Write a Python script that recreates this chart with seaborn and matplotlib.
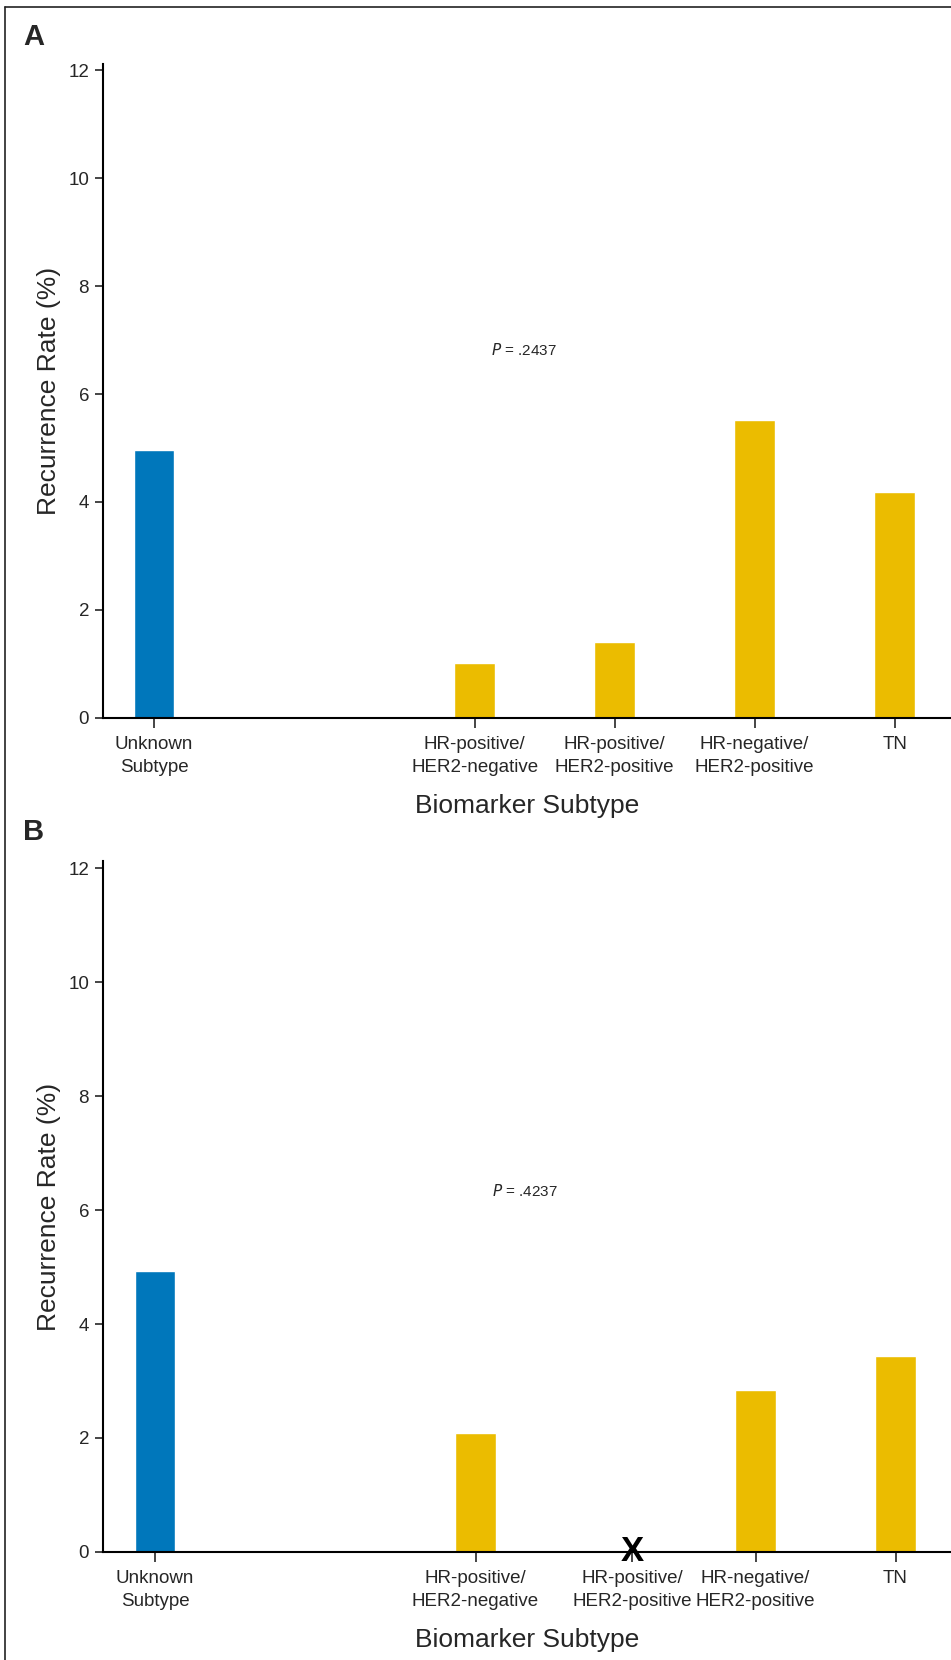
import matplotlib
matplotlib.use('Agg')
import matplotlib.pyplot as plt
import pandas as pd
import seaborn as sns
from matplotlib.lines import Line2D

# Data
subtypes = ['Unknown\nSubtype', 'HR-positive/\nHER2-negative', 'HR-positive/\nHER2-positive',
            'HR-negative/\nHER2-positive', 'TN']
groups = ['unknown', 'known', 'known', 'known', 'known']
rate_a = [4.96, 1.02, 1.41, 5.52, 4.19]
rate_b = [4.93, 2.09, None, 2.85, 3.44]   # HR-positive/HER2-positive: no data (X)
pos_a = [0, 2.29, 3.29, 4.29, 5.29]
pos_b = [0, 2.29, 3.41, 4.29, 5.29]
p_text = ['.2437', '.4237']

palette = {'unknown': '#0077BB', 'known': '#EBBC00'}

sns.set_theme(style='white')
plt.rcParams['font.family'] = ['Liberation Sans', 'DejaVu Sans']

fig = plt.figure(figsize=(9.51, 16.6), dpi=100)
ax_a = fig.add_axes([0.1083, 0.5675, 0.8917, 0.3942])
ax_b = fig.add_axes([0.1083, 0.0651, 0.8917, 0.4160])


def draw_panel(ax, rates, pos, ptxt, p_y, xlim):
    df = pd.DataFrame({'pos': pos, 'rate': rates, 'group': groups})
    df_bars = df.dropna()
    sns.barplot(data=df_bars, x='pos', y='rate', hue='group', palette=palette,
                native_scale=True, dodge=False, width=0.29, legend=False, ax=ax,
                saturation=1)
    ax.set_xlim(*xlim)
    ax.set_ylim(0, 12.12)
    ax.set_yticks([0, 2, 4, 6, 8, 10, 12])
    ax.set_xticks(pos)
    ax.set_xticklabels(subtypes, fontsize=13.5, linespacing=1.45, va='top')
    ax.tick_params(axis='y', labelsize=13.5, length=6, width=1.2, left=True, pad=4)
    ax.tick_params(axis='x', length=7, width=1.2, bottom=True, pad=6)
    for s in ['top', 'right']:
        ax.spines[s].set_visible(False)
    for s in ['left', 'bottom']:
        ax.spines[s].set_color('black')
        ax.spines[s].set_linewidth(1.5)
    ax.set_xlabel('Biomarker Subtype', fontsize=19, labelpad=13)
    ax.set_ylabel('Recurrence Rate (%)', fontsize=19, labelpad=5)
    ax.text(2.64, p_y, r'$\it{P}$ = ' + ptxt, fontsize=11, ha='center', va='center')
    # missing bars marked with X
    for r, x in zip(rates, pos):
        if r is None or pd.isna(r):
            ax.text(x, 0, 'X', fontsize=25, fontweight='heavy', ha='center',
                    va='center', clip_on=False, zorder=5, color='black')


draw_panel(ax_a, rate_a, pos_a, p_text[0], 6.82, (-0.364, 5.693))
draw_panel(ax_b, rate_b, pos_b, p_text[1], 6.34, (-0.371, 5.686))

fig.text(23 / 951, 1 - 45 / 1660, 'A', fontsize=21, fontweight='bold', ha='left', va='baseline')
fig.text(23 / 951, 1 - 840 / 1660, 'B', fontsize=21, fontweight='bold', ha='left', va='baseline')

# frame (top and left edges only, cropped on the other sides)
fig.add_artist(Line2D([5 / 951, 5 / 951], [0, 1 - 7 / 1660], color='#222222', lw=1.2,
                      transform=fig.transFigure))
fig.add_artist(Line2D([5 / 951, 1], [1 - 7 / 1660, 1 - 7 / 1660], color='#222222', lw=1.2,
                      transform=fig.transFigure))

fig.savefig('out.png', dpi=100)
